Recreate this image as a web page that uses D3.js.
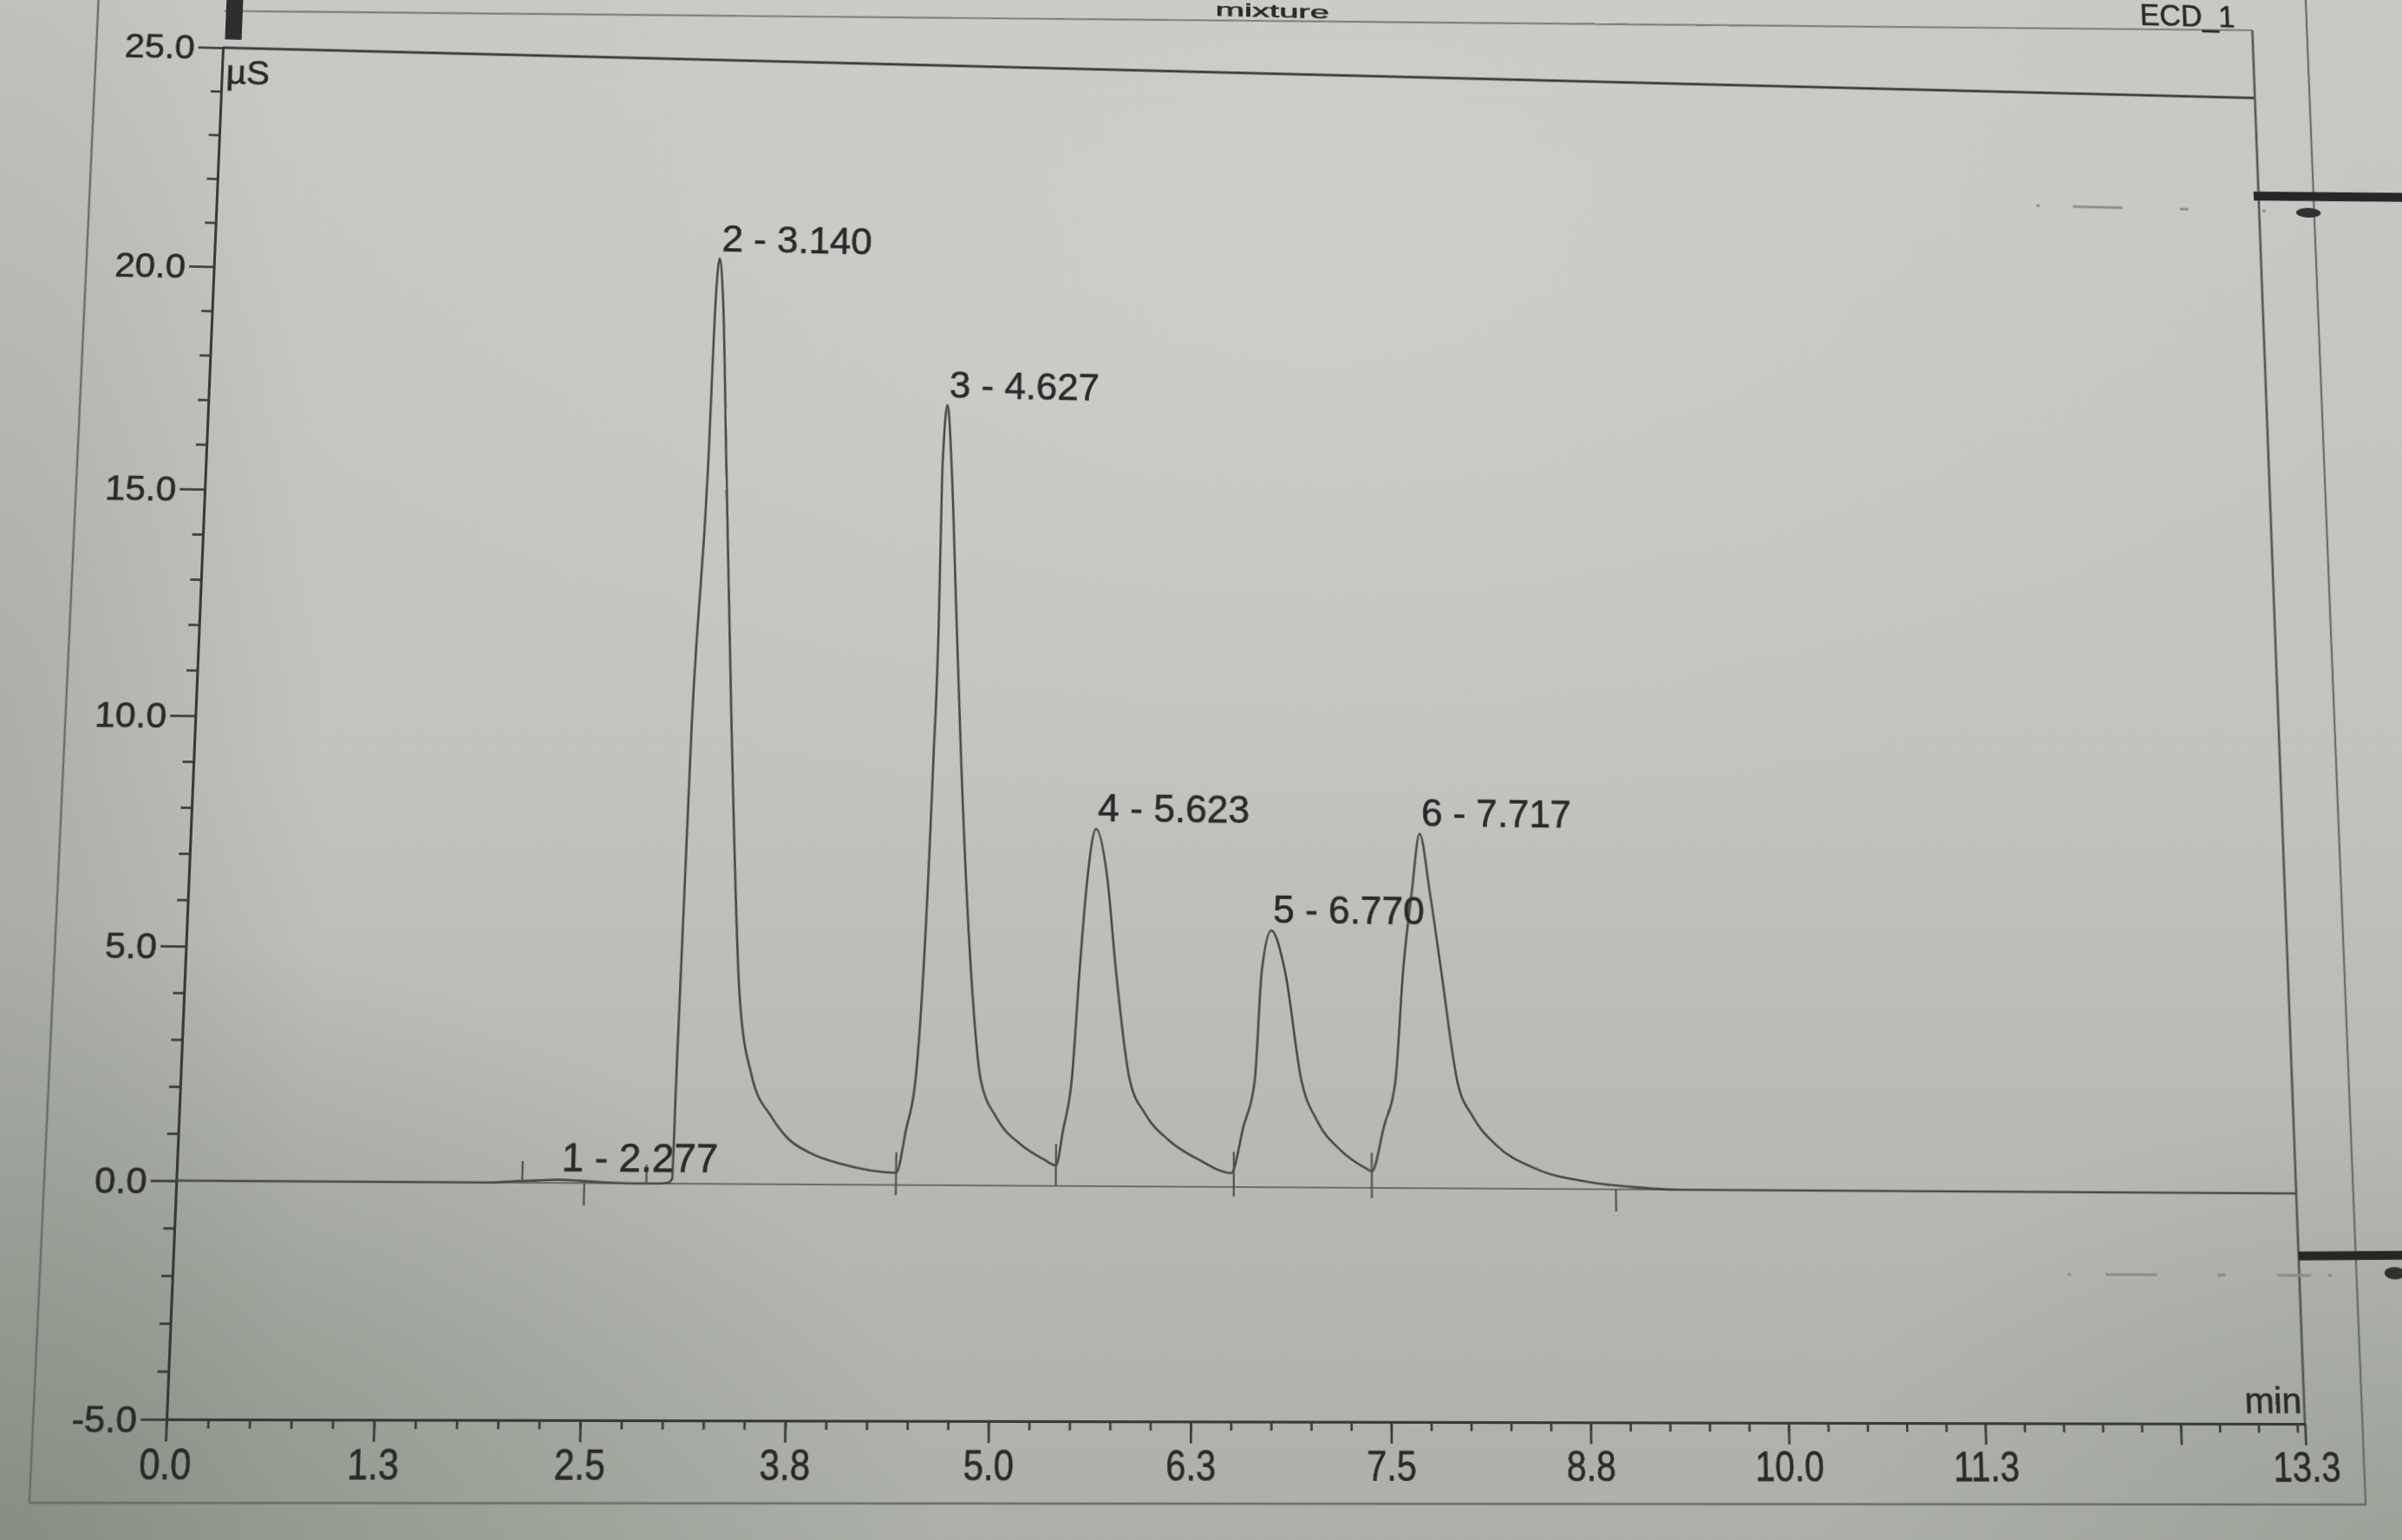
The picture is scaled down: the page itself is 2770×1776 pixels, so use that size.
<!DOCTYPE html>
<html>
<head>
<meta charset="utf-8">
<script src="https://cdn.jsdelivr.net/npm/d3@7"></script>
<style>
html,body{margin:0;padding:0;width:2770px;height:1776px;overflow:hidden;background:#c0c2bd;}
#bg{position:absolute;left:0;top:0;width:2770px;height:1776px;
 background:
  radial-gradient(ellipse 1500px 1000px at 0% 100%, rgba(110,118,106,0.55), rgba(110,118,106,0) 72%),
  radial-gradient(ellipse 500px 1800px at 0% 50%, rgba(120,126,116,0.30), rgba(120,126,116,0) 75%),
  radial-gradient(ellipse 900px 700px at 100% 100%, rgba(125,131,121,0.32), rgba(125,131,121,0) 75%),
  radial-gradient(ellipse 1700px 900px at 55% 18%, rgba(212,212,208,0.50), rgba(212,212,208,0) 72%),
  linear-gradient(180deg, #c8c9c5 0%, #c1c3be 50%, #acb0a8 100%);}
#wrap{position:absolute;left:0;top:0;transform-origin:0 0;}
#wrap svg{display:block;overflow:visible;filter:blur(0.6px);}
text{font-family:"Liberation Sans",Arial,Helvetica,sans-serif;fill:#2a2a2a;stroke:#2a2a2a;stroke-width:0.6;}
</style>
</head>
<body>
<div id="bg"></div>
<div id="wrap"></div>
<script>
// ---------------- DATA ----------------
// trace: [retention time (min), conductivity (µS)]
const trace = [
  [0,0],[0.5,0],[1.0,0],[1.5,0],[1.9,0],[2.05,0.03],[2.2,0.05],[2.33,0.07],[2.45,0.05],[2.6,0.02],[2.8,0],[2.95,0],
  [3.0,0.02],[3.026,0.1],[3.038,2.3],[3.084,9.87],[3.151,15.65],[3.178,19.6],[3.197,20.43],[3.222,19.6],[3.268,15.65],
  [3.335,9.87],[3.419,4.05],[3.504,2.32],[3.632,1.44],[3.730,1.0],[3.877,0.67],[4.071,0.44],[4.409,0.26],
  [4.468,1.2],[4.523,2.3],[4.606,9.12],[4.631,12.64],[4.640,15.74],[4.668,17.2],[4.700,15.74],[4.739,12.64],
  [4.784,9.12],[4.872,4.09],[4.927,2.3],[5.033,1.44],[5.181,0.89],[5.327,0.57],[5.403,0.44],
  [5.446,1.2],[5.498,2.3],[5.542,4.68],[5.587,6.70],[5.639,7.77],[5.712,6.70],[5.770,4.68],[5.861,2.3],
  [5.960,1.56],[6.107,1.0],[6.304,0.57],[6.500,0.30],
  [6.576,1.3],[6.647,2.3],[6.691,4.69],[6.751,5.58],[6.838,4.69],[6.942,2.3],[7.040,1.44],[7.187,0.81],
  [7.362,0.39],[7.384,0.35],
  [7.462,1.33],[7.535,2.3],[7.588,4.75],[7.645,6.46],[7.697,7.75],[7.760,6.46],[7.829,4.75],[7.929,2.3],
  [8.024,1.56],[8.172,0.94],[8.418,0.44],[8.764,0.15],[9.01,0.06],[9.34,0],[10.0,0],[11.0,0],[12.0,0],[13.3,0]
];

// peak annotations
const peakLabels = ["1 - 2.277","2 - 3.140","3 - 4.627","4 - 5.623","5 - 6.770","6 - 7.717"];
const peakTimes  = [2.333, 3.197, 4.668, 5.639, 6.751, 7.697];
const peakValues = [0.07, 20.43, 17.2, 7.77, 5.58, 7.75];

// peak delimiter marks: time, low value, high value
const delimTimes = [2.106, 2.487, 2.868, 4.409, 5.403, 6.516, 7.384, 8.928];
const delimLow   = [0, -0.48, 0, -0.22, 0, -0.2, -0.22, -0.48];
const delimHigh  = [0.46, 0, 0.4, 0.7, 0.9, 0.76, 0.76, 0];

// axes
const xDomain = [0, 13.3];
const yDomain = [-5, 25];
const xMajor = [0,1.25,2.5,3.75,5,6.25,7.5,8.75,10,11.25,12.5,13.3];
const xLabels = ["0.0","1.3","2.5","3.8","5.0","6.3","7.5","8.8","10.0","11.3","","13.3"];
const yMajor = [-5,0,5,10,15,20,25];
const yLabels = ["-5.0","0.0","5.0","10.0","15.0","20.0","25.0"];
const title = "mixture";
const channel = "ECD_1";
const yUnit = "µS";
const xUnit = "min";

// ---------------- LAYOUT ----------------
const svgW = 3200, svgH = 2100;
const ox = 300, oy = 250, W = 2400, H = 1560;
// where the plot rectangle corners land in the photograph
const quad = [[257,55],[2600,113],[2658,1642],[192,1637]];
const src  = [[ox,oy],[ox+W,oy],[ox+W,oy+H],[ox,oy+H]];

function homography(s, d){
  const A=[], b=[];
  for(let i=0;i<4;i++){
    const [x,y]=s[i], [X,Y]=d[i];
    A.push([x,y,1,0,0,0,-x*X,-y*X]); b.push(X);
    A.push([0,0,0,x,y,1,-x*Y,-y*Y]); b.push(Y);
  }
  const n=8;
  for(let c=0;c<n;c++){
    let p=c;
    for(let r=c+1;r<n;r++) if(Math.abs(A[r][c])>Math.abs(A[p][c])) p=r;
    [A[c],A[p]]=[A[p],A[c]]; [b[c],b[p]]=[b[p],b[c]];
    for(let r=0;r<n;r++){
      if(r===c) continue;
      const f=A[r][c]/A[c][c];
      for(let k=c;k<n;k++) A[r][k]-=f*A[c][k];
      b[r]-=f*b[c];
    }
  }
  return b.map((v,i)=>v/A[i][i]);
}
const h = homography(src, quad);
const wrap = document.getElementById("wrap");
wrap.style.width = svgW+"px"; wrap.style.height = svgH+"px";
wrap.style.transform = `matrix3d(${h[0]},${h[3]},0,${h[6]},${h[1]},${h[4]},0,${h[7]},0,0,1,0,${h[2]},${h[5]},0,1)`;

const svg = d3.select(wrap).append("svg").attr("width",svgW).attr("height",svgH);

const x = d3.scaleLinear().domain(xDomain).range([ox, ox+W]);
const y = d3.scaleLinear().domain(yDomain).range([oy+H, oy]);

const ink = "#383a38";

// ---------- printout page border ----------
const page = svg.append("g").attr("fill","none").attr("stroke","#6a6d68").attr("stroke-width",2.4);
const pl = ox-144, pr = ox+W+67, pb = oy+H+90, pt = oy-320;
page.append("path").attr("d",`M${pl},${pt}L${pl},${pb}L${pr},${pb}L${pr},${pt}`);

// header line, title, channel
svg.append("line").attr("x1",ox).attr("x2",ox+W).attr("y1",oy-44).attr("y2",oy-84)
  .attr("stroke","#7a7c78").attr("stroke-width",2.2);
svg.append("text").attr("x",ox+W*0.508).attr("y",oy-68.5).attr("text-anchor","middle")
  .attr("font-size",22).attr("textLength",135).attr("lengthAdjust","spacingAndGlyphs").text(title);
svg.append("text").attr("x",ox+W-21).attr("y",oy-87).attr("text-anchor","end")
  .attr("font-size",36).attr("fill","#3a3a3a").attr("stroke","#3a3a3a").text(channel);

// black marker on top of the signal axis
svg.append("rect").attr("x",ox+2).attr("y",oy-130).attr("width",19).attr("height",120).attr("fill","#2e2e2e");

// frame: top and right
svg.append("line").attr("x1",ox).attr("x2",ox+W).attr("y1",y(yDomain[1])).attr("y2",y(yDomain[1]))
  .attr("stroke",ink).attr("stroke-width",2.8);
svg.append("line").attr("x1",x(xDomain[1])).attr("x2",x(xDomain[1])).attr("y1",oy-84).attr("y2",oy+H)
  .attr("stroke","#555754").attr("stroke-width",2.8);

// zero line
svg.append("line").attr("x1",x(0)).attr("x2",x(13.3)).attr("y1",y(0)).attr("y2",y(0))
  .attr("stroke","#6c6e6a").attr("stroke-width",1.8);

// ---------- axes ----------
function styleAxis(g){
  g.selectAll("path.domain").attr("stroke",ink).attr("stroke-width",3);
  g.selectAll(".tick line").attr("stroke",ink).attr("stroke-width",2.6);
  g.attr("font-family",null).attr("font-size",null);
}
// y minor
const yMinor = d3.range(-5,25,1).filter(v=>v%5!==0);
svg.append("g").attr("transform",`translate(${ox},0)`)
  .call(d3.axisLeft(y).tickValues(yMinor).tickSize(12).tickSizeOuter(0).tickFormat(""))
  .call(styleAxis).call(g=>g.select("path.domain").remove());
// y major
svg.append("g").attr("transform",`translate(${ox},0)`)
  .call(d3.axisLeft(y).tickValues(yMajor).tickSize(28).tickSizeOuter(0).tickPadding(4)
        .tickFormat((d,i)=>yLabels[i]))
  .call(styleAxis)
  .call(g=>g.selectAll(".tick text").attr("font-size",41).attr("fill","#2a2a2a"));

// x minor
const xMinor = d3.range(0,13.3,0.25);
svg.append("g").attr("transform",`translate(0,${oy+H})`)
  .call(d3.axisBottom(x).tickValues(xMinor).tickSize(10).tickSizeOuter(0).tickFormat(""))
  .call(styleAxis).call(g=>g.select("path.domain").remove());
// x major
svg.append("g").attr("transform",`translate(0,${oy+H})`)
  .call(d3.axisBottom(x).tickValues(xMajor).tickSize(24).tickSizeOuter(0).tickPadding(7)
        .tickFormat((d,i)=>xLabels[i]))
  .call(styleAxis)
  .call(g=>g.selectAll(".tick text").attr("font-size",47).attr("transform","scale(0.86,1)").attr("fill","#2a2a2a"));

// units
svg.append("text").attr("x",ox+5).attr("y",oy+43).attr("font-size",40).text(yUnit);
svg.append("text").attr("x",ox+W-3).attr("y",oy+H-12).attr("text-anchor","end").attr("font-size",41).text(xUnit);

// ---------- trace ----------
const line = d3.line().x(d=>x(d[0])).y(d=>y(d[1])).curve(d3.curveMonotoneX);
svg.append("path").datum(trace).attr("d",line).attr("fill","none")
  .attr("stroke","#484a47").attr("stroke-width",2.6).attr("stroke-linejoin","round");

// delimiters
svg.append("g").selectAll("line").data(delimTimes).join("line")
  .attr("x1",d=>x(d)).attr("x2",d=>x(d))
  .attr("y1",(d,i)=>y(delimLow[i])).attr("y2",(d,i)=>y(delimHigh[i]))
  .attr("stroke","#505250").attr("stroke-width",2.2);

// peak labels
svg.append("g").selectAll("text").data(peakLabels).join("text")
  .attr("x",(d,i)=>x(peakTimes[i])+2).attr("y",(d,i)=>y(peakValues[i])-9)
  .attr("font-size",44).text(d=>d);

// ---------- marks on the photographed page (right margin) ----------
const marks = svg.append("g");
marks.append("line").attr("x1",ox+W-6).attr("x2",ox+W+200).attr("y1",oy+121).attr("y2",oy+118)
  .attr("stroke","#262626").attr("stroke-width",11);
marks.append("ellipse").attr("cx",ox+W+60).attr("cy",oy+140).attr("rx",15).attr("ry",6).attr("fill","#303030");
marks.append("line").attr("x1",ox+W-270).attr("x2",ox+W+20).attr("y1",oy+139).attr("y2",oy+139)
  .attr("stroke","#8a8c88").attr("stroke-width",3).attr("stroke-dasharray","4 40 60 70 10 90");
marks.append("line").attr("x1",ox+W).attr("x2",ox+W+170).attr("y1",oy+1371).attr("y2",oy+1369)
  .attr("stroke","#262626").attr("stroke-width",10);
marks.append("ellipse").attr("cx",ox+W+112).attr("cy",oy+1390).attr("rx",12).attr("ry",7).attr("fill","#303030");
marks.append("line").attr("x1",ox+W-270).attr("x2",ox+W+40).attr("y1",oy+1393).attr("y2",oy+1393)
  .attr("stroke","#8a8c88").attr("stroke-width",3).attr("stroke-dasharray","4 40 60 70 10 60 40 20");
</script>
</body>
</html>
